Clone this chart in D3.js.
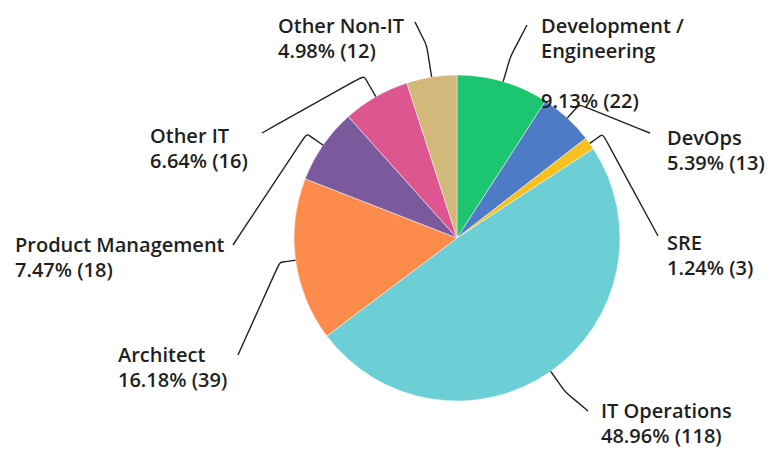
<!DOCTYPE html>
<html>
<head>
<meta charset="utf-8">
<script src="https://cdn.jsdelivr.net/npm/d3@7"></script>
<style>
  html, body { margin: 0; padding: 0; background: #fff; }
  svg { display: block; }
  text { font-family: "Open Sans", sans-serif; font-weight: 600; fill: #1f1f1f; }
</style>
</head>
<body>
<svg id="chart" width="784" height="449"></svg>
<script>
// ---- data ----
const categories = ["Development / Engineering", "DevOps", "SRE", "IT Operations", "Architect", "Product Management", "Other IT", "Other Non-IT"];
const counts = [22, 13, 3, 118, 39, 18, 16, 12];
const percentLabels = ["9.13%", "5.39%", "1.24%", "48.96%", "16.18%", "7.47%", "6.64%", "4.98%"];
const nameLines = [["Development /", "Engineering", ""], ["DevOps"], ["SRE"], ["IT Operations"], ["Architect"], ["Product Management"], ["Other IT"], ["Other Non-IT"]];
const colors = ["#1cc56f", "#4e7bc5", "#f6c11e", "#6dcfd6", "#fd8b4b", "#7a5a9c", "#de5690", "#d2b87b"];

// ---- layout (label placement) ----
const cx = 457, cy = 238, R = 163;
const labelPos = [
  {x: 541, y: 33, ex: 527, ey: 25, off: 26},
  {x: 667, y: 145, ex: 650, ey: 133, off: 18},
  {x: 667, y: 250, ex: 658, ey: 236, off: 16},
  {x: 601, y: 418, ex: 588, ey: 411, off: 25},
  {x: 118, y: 362, ex: 238, ey: 355, off: 16},
  {x: 15, y: 252, ex: 233, ey: 245, off: 20},
  {x: 150, y: 143, ex: 262, ey: 133, off: 24},
  {x: 278, y: 33, ex: 415, ey: 22, off: 32}
];
const lineH = 25;

const svg = d3.select("#chart");
const g = svg.append("g").attr("transform", `translate(${cx},${cy})`);

const pie = d3.pie().sort(null).value(d => d);
const arcs = pie(counts);
const arc = d3.arc().innerRadius(0).outerRadius(R);

g.selectAll("path.slice").data(arcs).join("path")
  .attr("class", "slice")
  .attr("d", arc)
  .attr("fill", (d, i) => colors[i])
  .attr("stroke", "#ffffff")
  .attr("stroke-opacity", 0.6)
  .attr("stroke-width", 0.8);

// leader lines
const line = d3.line().curve(d3.curveBasis);
arcs.forEach((d, i) => {
  const a = (d.startAngle + d.endAngle) / 2;
  const lp = labelPos[i];
  const p0 = [Math.sin(a) * R, -Math.cos(a) * R];
  const p1 = [Math.sin(a) * (R + lp.off), -Math.cos(a) * (R + lp.off)];
  const p2 = [lp.ex - cx, lp.ey - cy];
  g.append("path")
    .attr("d", line([p0, p1, p1, p2]))
    .attr("fill", "none")
    .attr("stroke", "#222")
    .attr("stroke-width", 1.4);
});

// labels
arcs.forEach((d, i) => {
  const lp = labelPos[i];
  const lines = nameLines[i].concat([`${percentLabels[i]} (${counts[i]})`]);
  const t = svg.append("text").attr("x", lp.x).attr("y", lp.y).style("font-size", "20px");
  lines.forEach((s, k) => {
    t.append("tspan").attr("x", lp.x).attr("y", lp.y + k * lineH).text(s);
  });
});
</script>
</body>
</html>
